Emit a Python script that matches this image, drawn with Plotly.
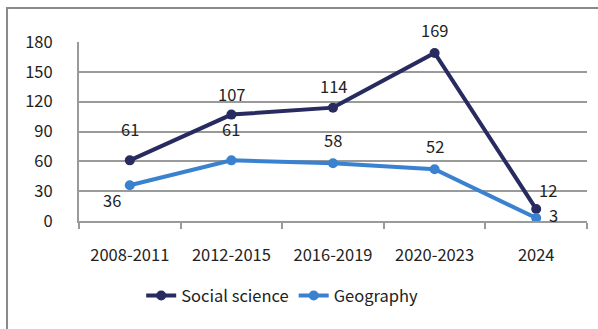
import plotly.graph_objects as go

categories = ["2008-2011", "2012-2015", "2016-2019", "2020-2023", "2024"]
social_science = [61, 107, 114, 169, 12]
geography = [36, 61, 58, 52, 3]
y_ticks = [0, 30, 60, 90, 120, 150, 180]

SS_COLOR = "#272B5F"
GEO_COLOR = "#3A82CF"
FONT = "Noto Sans CJK KR"
TXT = "#222222"
GRID = "#9a9a9a"
FS = 16.5

fig = go.Figure()
fig.add_trace(go.Scatter(x=categories, y=social_science, name="Social science",
                         mode="lines+markers", line=dict(color=SS_COLOR, width=4),
                         marker=dict(size=10, color=SS_COLOR)))
fig.add_trace(go.Scatter(x=categories, y=geography, name="Geography",
                         mode="lines+markers", line=dict(color=GEO_COLOR, width=4),
                         marker=dict(size=10, color=GEO_COLOR)))

# label offsets (style)
ss_off = [(0, 31), (0, 21), (0, 22), (0, 23), (12, 19)]
geo_off = [(-18, -15), (0, 31), (0, 23), (0, 23), (17, 3)]
ann = []
for vals, offs in ((social_science, ss_off), (geography, geo_off)):
    for i, (v, (dx, dy)) in enumerate(zip(vals, offs)):
        ann.append(dict(x=i, y=v, xref="x", yref="y", text=str(v), showarrow=False,
                        xshift=dx, yshift=dy,
                        font=dict(family=FONT, size=FS, color=TXT)))

fig.update_layout(
    width=598, height=329,
    margin=dict(l=79, r=11, t=42, b=108),
    paper_bgcolor="white", plot_bgcolor="white",
    font=dict(family=FONT, size=FS, color=TXT),
    showlegend=True,
    legend=dict(orientation="h", x=0.40, xanchor="center", y=-0.32, yanchor="top",
                font=dict(family=FONT, size=FS, color=TXT), itemwidth=30,
                tracegroupgap=0),
    annotations=ann,
    xaxis=dict(type="category", range=[-0.5, 4.5], showgrid=False, showline=True,
               linecolor=GRID, linewidth=2, ticks="outside", tickson="boundaries",
               ticklen=6, tickcolor=GRID, tickwidth=2, ticklabelstandoff=18,
               tickfont=dict(family=FONT, size=FS, color=TXT)),
    yaxis=dict(range=[0, 180], tickvals=y_ticks, showgrid=True, gridcolor=GRID,
               gridwidth=2, zeroline=False, showline=True, linecolor=GRID, linewidth=2,
               ticks="", ticklabelstandoff=21,
               tickfont=dict(family=FONT, size=FS, color=TXT)),
    shapes=[dict(type="rect", xref="paper", yref="paper", x0=-0.1417, x1=2.0,
                 y0=-3.0, y1=1.19, line=dict(color="#8a8a8a", width=2), layer="below")],
)

fig.write_html("out.html")
